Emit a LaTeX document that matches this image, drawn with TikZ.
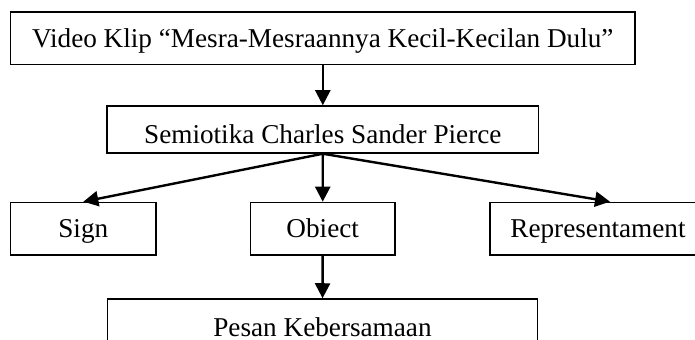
\documentclass[tikz,border=0pt]{standalone}
\usepackage{fontspec}
\setmainfont{Liberation Serif}
\usepackage{tikz}
\usetikzlibrary{
  positioning,
  arrows.meta
}

\begin{document}
\begin{tikzpicture}[
      x=0.5pt, y=-0.5pt,
      block/.style={rectangle, draw, line width=0.75pt, inner sep=0pt, minimum height=26.25pt, text height=8.8pt, text depth=0pt, font=\fontsize{13.6}{16}\selectfont, align=center},
      lowtext/.style={text height=13.6pt, text depth=0pt},
      arrow/.style={-{Triangle[length=7.5pt, width=7.5pt]}, line width=1.2pt}
    ]
      \useasboundingbox (0,0) rectangle (695,340);

      % Top levels
      \node[block, minimum width=312.25pt, minimum height=26.3pt] (klip) at (322.8,38.3) {Video Klip “Mesra-Mesraannya Kecil-Kecilan Dulu”};
      \node[block, lowtext, minimum width=215.75pt, minimum height=23.5pt] (semio) at (322.8,129.5) {Semiotika Charles Sander Pierce};

      % Trikotomi
      \node[block, minimum width=72.7pt] (sign) at (83.3,228.7) {Sign};
      \node[block, minimum width=72.25pt] (obiect) at (322.7,228.7) {Obiect};
      \node[block, minimum width=108pt] (repr) at (598,228.7) {Representament};

      % Result
      \node[block, lowtext, minimum width=215pt, minimum height=23.5pt] (pesan) at (322.5,322.5) {Pesan Kebersamaan};

      % Arrows
      \draw[arrow] (klip) -- (semio);
      \draw[arrow] (semio.south) -- (sign.north);
      \draw[arrow] (semio.south) -- (obiect.north);
      \draw[arrow] (semio.south) -- ([xshift=6pt]repr.north);
      \draw[arrow] (obiect) -- (pesan);
    \end{tikzpicture}
\end{document}
